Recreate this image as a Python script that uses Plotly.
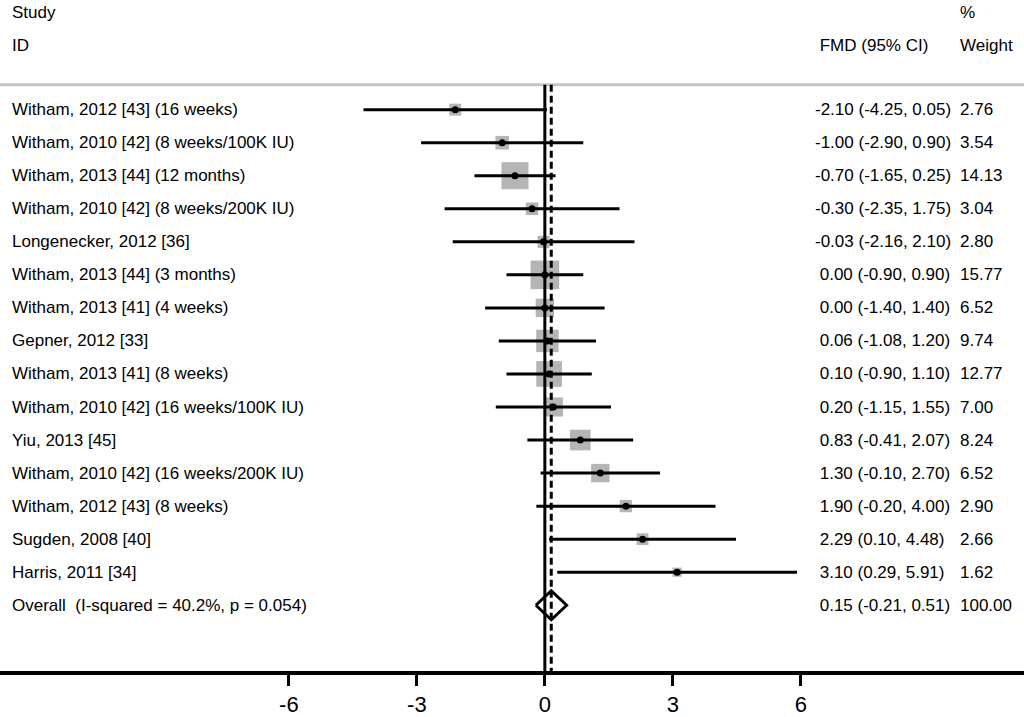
import plotly.graph_objects as go
import math

studies = [
    "Witham, 2012 [43] (16 weeks)",
    "Witham, 2010 [42] (8 weeks/100K IU)",
    "Witham, 2013 [44] (12 months)",
    "Witham, 2010 [42] (8 weeks/200K IU)",
    "Longenecker, 2012 [36]",
    "Witham, 2013 [44] (3 months)",
    "Witham, 2013 [41] (4 weeks)",
    "Gepner, 2012 [33]",
    "Witham, 2013 [41] (8 weeks)",
    "Witham, 2010 [42] (16 weeks/100K IU)",
    "Yiu, 2013 [45]",
    "Witham, 2010 [42] (16 weeks/200K IU)",
    "Witham, 2012 [43] (8 weeks)",
    "Sugden, 2008 [40]",
    "Harris, 2011 [34]",
]
est = [-2.10, -1.00, -0.70, -0.30, -0.03, 0.00, 0.00, 0.06, 0.10, 0.20, 0.83, 1.30, 1.90, 2.29, 3.10]
lo = [-4.25, -2.90, -1.65, -2.35, -2.16, -0.90, -1.40, -1.08, -0.90, -1.15, -0.41, -0.10, -0.20, 0.10, 0.29]
hi = [0.05, 0.90, 0.25, 1.75, 2.10, 0.90, 1.40, 1.20, 1.10, 1.55, 2.07, 2.70, 4.00, 4.48, 5.91]
weight = [2.76, 3.54, 14.13, 3.04, 2.80, 15.77, 6.52, 9.74, 12.77, 7.00, 8.24, 6.52, 2.90, 2.66, 1.62]

overall_label = "Overall  (I-squared = 40.2%, p = 0.054)"
overall_est, overall_lo, overall_hi, overall_w = 0.15, -0.21, 0.51, 100.00

x_ticks = [-6, -3, 0, 3, 6]

FONT = "Liberation Sans, Arial, Helvetica, sans-serif"
FS = 17

rows = list(range(1, len(studies) + 1))
overall_row = len(studies) + 1

fig = go.Figure()

# weight squares
fig.add_trace(go.Scatter(
    x=est, y=rows, mode="markers",
    marker=dict(symbol="square", size=[7.2 * math.sqrt(w) for w in weight],
                color="#b5b5b5", opacity=1, line=dict(width=0)),
    hoverinfo="skip", showlegend=False))

# CI lines
cx, cy = [], []
for l, h, r in zip(lo, hi, rows):
    cx += [l, h, None]
    cy += [r, r, None]
fig.add_trace(go.Scatter(x=cx, y=cy, mode="lines",
                         line=dict(color="black", width=3),
                         hoverinfo="skip", showlegend=False))

# point estimates
fig.add_trace(go.Scatter(x=est, y=rows, mode="markers",
                         marker=dict(symbol="circle", size=7, color="black", opacity=1),
                         hoverinfo="skip", showlegend=False))

# overall diamond
dh = 0.44
fig.add_trace(go.Scatter(
    x=[overall_lo, overall_est, overall_hi, overall_est, overall_lo],
    y=[overall_row, overall_row - dh, overall_row, overall_row + dh, overall_row],
    mode="lines", line=dict(color="black", width=3),
    hoverinfo="skip", showlegend=False))

y_top = 0.246
y_bot = 17.99
shapes = [
    dict(type="line", xref="paper", x0=0, x1=1, yref="y", y0=y_top, y1=y_top,
         line=dict(color="#c4c4c4", width=3), layer="below"),
    dict(type="line", xref="x", x0=0, x1=0, yref="y", y0=y_top, y1=y_bot,
         line=dict(color="black", width=3), layer="above"),
    dict(type="line", xref="x", x0=overall_est, x1=overall_est, yref="y", y0=y_top, y1=y_bot,
         line=dict(color="black", width=3, dash="7px,4px"), layer="above"),
]

annotations = []
def txt(x, y, s):
    annotations.append(dict(x=x, y=y, xref="paper", yref="y", text=s, showarrow=False,
                            xanchor="left", yanchor="middle",
                            font=dict(family=FONT, size=FS, color="black")))

def ci_text(e, l, h):
    s = f"{e:.2f} ({l:.2f}, {h:.2f})"
    return s if e < 0 else "\u00a0" + s

txt(10 / 1024, -1.93, "Study")
txt(10 / 1024, -0.93, "ID")
txt(813 / 1024, -0.93, "\u00a0FMD (95% CI)")
txt(958 / 1024, -1.93, "%")
txt(958 / 1024, -0.93, "Weight")

for s, e, l, h, w, r in zip(studies, est, lo, hi, weight, rows):
    txt(10 / 1024, r, s)
    txt(813 / 1024, r, ci_text(e, l, h))
    txt(958 / 1024, r, f"{w:.2f}")
txt(10 / 1024, overall_row, overall_label)
txt(813 / 1024, overall_row, ci_text(overall_est, overall_lo, overall_hi))
txt(958 / 1024, overall_row, f"{overall_w:.2f}")

fig.update_layout(
    width=1024, height=717,
    margin=dict(l=0, r=0, t=0, b=44),
    paper_bgcolor="white", plot_bgcolor="white",
    shapes=shapes, annotations=annotations,
    showlegend=False,
    xaxis=dict(range=[-12.77, 11.23], tickvals=x_ticks, ticktext=[str(t) for t in x_ticks],
               showgrid=False, zeroline=False, showline=True, linecolor="black", linewidth=4,
               ticks="outside", ticklen=11, tickwidth=3, tickcolor="black",
               tickfont=dict(family=FONT, size=22, color="black"), fixedrange=True),
    yaxis=dict(range=[y_bot, -2.319], showgrid=False, zeroline=False, showline=False,
               showticklabels=False, ticks="", fixedrange=True),
)

fig.write_html("out.html", config={"displayModeBar": False},
               post_script="document.body.style.margin='0px';document.body.style.overflow='hidden';")
